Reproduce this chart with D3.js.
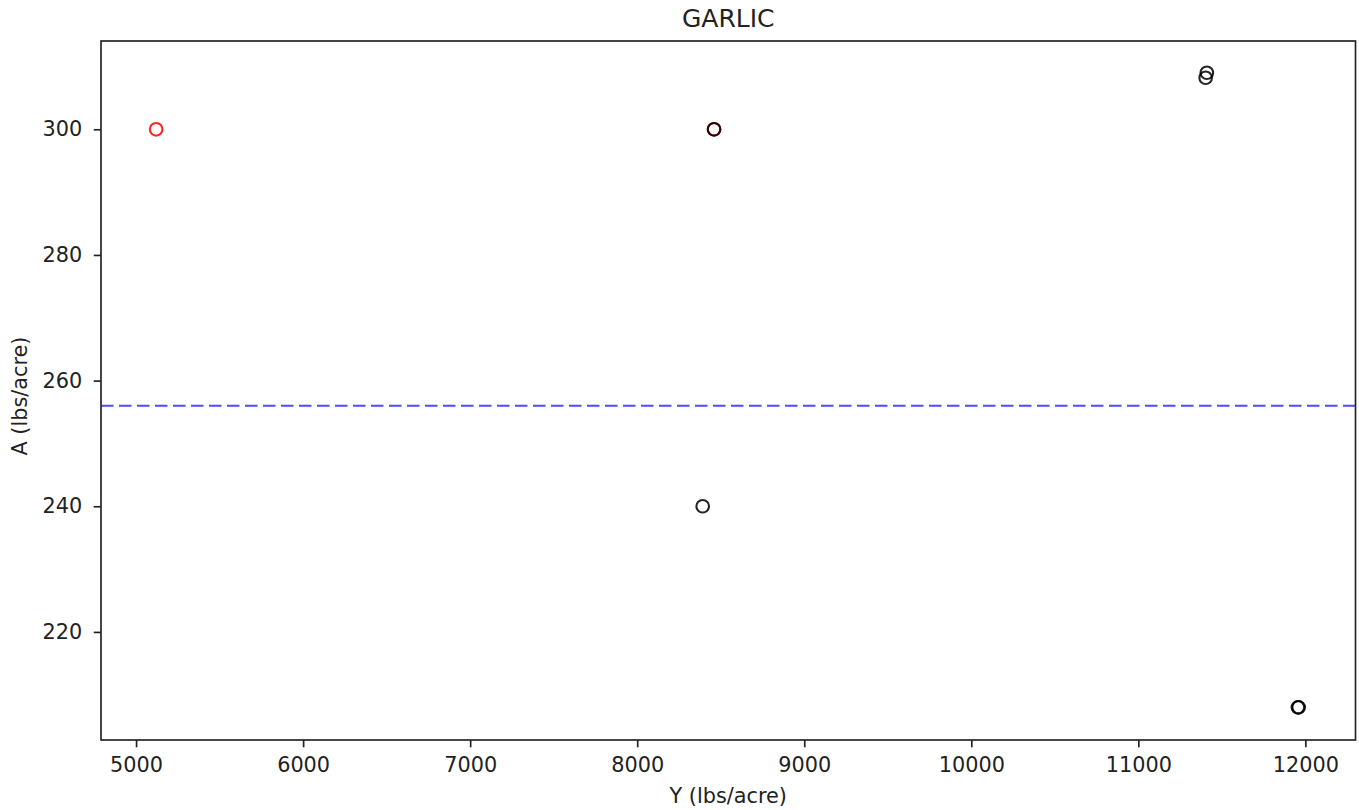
<!DOCTYPE html>
<html>
<head>
<meta charset="utf-8">
<script src="https://cdn.jsdelivr.net/npm/d3@7"></script>
<style>
  body { margin: 0; background: #fff; }
  svg text { font-family: "DejaVu Sans", sans-serif; fill: #222; }
</style>
</head>
<body>
<svg id="chart" width="1359" height="810"></svg>
<script>
// Garlic: yield (Y) vs. applied amount (A), lbs/acre
const title = "GARLIC";
const xLabel = "Y (lbs/acre)";
const yLabel = "A (lbs/acre)";

// highlighted observations (red)
const redY = [5120, 8460];
const redA = [300, 300];

// other observations (black)
const blackY = [8460, 11410, 11403, 11960, 11955, 8392];
const blackA = [300, 309, 308.2, 208, 208, 240];

// reference level (dashed line)
const refA = 256;

const xTicks = [5000, 6000, 7000, 8000, 9000, 10000, 11000, 12000];
const yTicks = [220, 240, 260, 280, 300];
const xDomain = [4790, 12300];
const yDomain = [202.8, 314.05];

const margin = { left: 101, right: 3.5, top: 41, bottom: 70 };
const W = 1359, H = 810;
const svg = d3.select("#chart");

const x = d3.scaleLinear().domain(xDomain).range([margin.left, W - margin.right]);
const y = d3.scaleLinear().domain(yDomain).range([H - margin.bottom, margin.top]);

svg.append("clipPath").attr("id", "plotclip").append("rect")
  .attr("x", margin.left).attr("y", margin.top)
  .attr("width", W - margin.right - margin.left).attr("height", H - margin.bottom - margin.top);

const plot = svg.append("g").attr("clip-path", "url(#plotclip)");

plot.append("line")
  .attr("x1", margin.left).attr("x2", W - margin.right)
  .attr("y1", y(refA)).attr("y2", y(refA))
  .attr("stroke", "#0000ff").attr("stroke-opacity", 0.7)
  .attr("stroke-width", 2).attr("stroke-dasharray", "12.5,5.5");

plot.selectAll("circle.red").data(redY.map((v, i) => [v, redA[i]])).enter()
  .append("circle").attr("class", "red")
  .attr("cx", d => x(d[0])).attr("cy", d => y(d[1])).attr("r", 6.3)
  .attr("fill", "none").attr("stroke", "#ff0000").attr("stroke-opacity", 0.85).attr("stroke-width", 2.1);

plot.selectAll("circle.black").data(blackY.map((v, i) => [v, blackA[i]])).enter()
  .append("circle").attr("class", "black")
  .attr("cx", d => x(d[0])).attr("cy", d => y(d[1])).attr("r", 6.3)
  .attr("fill", "none").attr("stroke", "#000").attr("stroke-opacity", 0.85).attr("stroke-width", 2.1);

const xAxis = svg.append("g").attr("transform", `translate(0,${H - margin.bottom})`)
  .call(d3.axisBottom(x).tickValues(xTicks).tickFormat(d3.format("d")).tickSize(7.3).tickPadding(9.5));
const yAxis = svg.append("g").attr("transform", `translate(${margin.left},0)`)
  .call(d3.axisLeft(y).tickValues(yTicks).tickFormat(d3.format("d")).tickSize(7.3).tickPadding(11.5));

[xAxis, yAxis].forEach(a => {
  a.select(".domain").remove();
  a.selectAll("text").style("font-size", "20.8px").attr("fill", "#222");
  a.selectAll("line").attr("stroke", "#222").attr("stroke-width", 1.67);
});

svg.append("rect")
  .attr("x", margin.left).attr("y", margin.top)
  .attr("width", W - margin.right - margin.left).attr("height", H - margin.bottom - margin.top)
  .attr("fill", "none").attr("stroke", "#222").attr("stroke-width", 1.67);

svg.append("text").attr("x", (margin.left + W - margin.right) / 2).attr("y", 27)
  .attr("text-anchor", "middle").style("font-size", "25px").text(title);

svg.append("text").attr("x", (margin.left + W - margin.right) / 2).attr("y", 803)
  .attr("text-anchor", "middle").style("font-size", "20.8px").text(xLabel);

svg.append("text")
  .attr("transform", `translate(26.5,396) rotate(-90)`)
  .attr("text-anchor", "middle").style("font-size", "20.8px").text(yLabel);
</script>
</body>
</html>
